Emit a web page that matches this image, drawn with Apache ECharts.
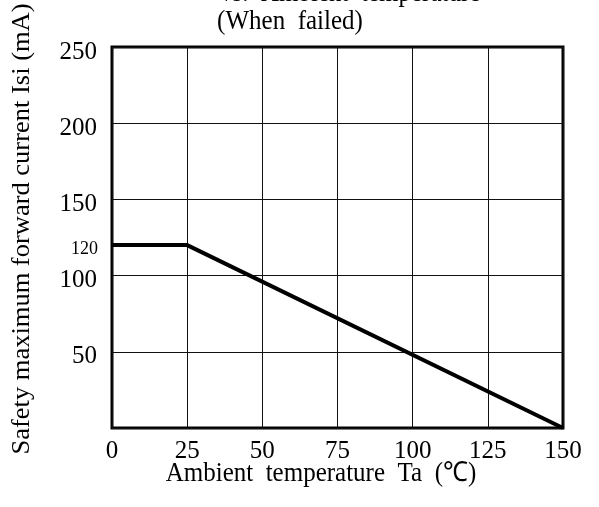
<!DOCTYPE html>
<html><head><meta charset="utf-8">
<script src="https://cdn.jsdelivr.net/npm/echarts@6/dist/echarts.min.js"></script>
<style>html,body{margin:0;padding:0;background:#fff}#c{width:599px;height:507px}</style>
</head><body><div id="c"></div>
<script>
const temperature = [0, 25, 150];
const current = [120, 120, 0];
const xTicks = [0, 25, 50, 75, 100, 125, 150];
const yTicks = [50, 100, 150, 200, 250];
const extraYTick = 120;
const titleLines = ['vs.  Ambient  temperature', '(When  failed)'];
const xName = 'Ambient  temperature  Ta  (\u2103)';
const yName = 'Safety maximum forward current Isi (mA)';

const font = 'Liberation Serif';
const chart = echarts.init(document.getElementById('c'));
chart.setOption({
  animation: false,
  backgroundColor: '#fff',
  grid: { left: 112, top: 47, right: 36, bottom: 79, show: true, borderColor: '#000', borderWidth: 3, backgroundColor: 'transparent' },
  xAxis: {
    type: 'value', min: 0, max: 150, interval: 25,
    axisLine: { show: false }, axisTick: { show: false },
    splitLine: { show: true, lineStyle: { color: '#111', width: 1 } },
    axisLabel: { fontFamily: font, fontSize: 25, color: '#000', margin: 11,
      formatter: v => xTicks.includes(v) ? String(v) : '' }
  },
  yAxis: [{
    type: 'value', min: 0, max: 250, interval: 50,
    axisLine: { show: false }, axisTick: { show: false },
    splitLine: { show: true, lineStyle: { color: '#111', width: 1 } },
    axisLabel: { fontFamily: font, fontSize: 25, color: '#000', margin: 15,
      formatter: v => yTicks.includes(v) ? '{a|' + v + '}' : '',
      rich: { a: { fontFamily: font, fontSize: 25, color: '#000', padding: [10, 0, 0, 0] } } }
  }, {
    type: 'value', min: 0, max: 250, interval: 10, position: 'left',
    axisLine: { show: false }, axisTick: { show: false }, splitLine: { show: false },
    axisLabel: { fontFamily: font, fontSize: 18, color: '#000', margin: 14,
      formatter: v => v === extraYTick ? '{a|' + v + '}' : '',
      rich: { a: { fontFamily: font, fontSize: 18, color: '#000', padding: [9, 0, 0, 0] } } }
  }],
  series: [{
    type: 'line', data: temperature.map((t, i) => [t, current[i]]),
    symbol: 'none', lineStyle: { color: '#000', width: 4 }
  }],
  graphic: [
    { type: 'text', x: 220, y: -6, scaleY: 1.1, style: { text: titleLines[0], font: '25px "Liberation Serif"', fill: '#000', align: 'left', verticalAlign: 'middle' } },
    { type: 'text', x: 290, y: 22, scaleY: 1.1, style: { text: titleLines[1], font: '25px "Liberation Serif"', fill: '#000', align: 'center', verticalAlign: 'middle' } },
    { type: 'text', x: 321, y: 474, scaleY: 1.1, style: { text: xName, font: '25px "Liberation Serif"', fill: '#000', align: 'center', verticalAlign: 'middle' } },
    { type: 'text', x: 22, y: 229, rotation: Math.PI / 2, scaleX: 1.06, style: { text: yName, font: '25px "Liberation Serif"', fill: '#000', align: 'center', verticalAlign: 'middle' } }
  ]
});
</script></body></html>
